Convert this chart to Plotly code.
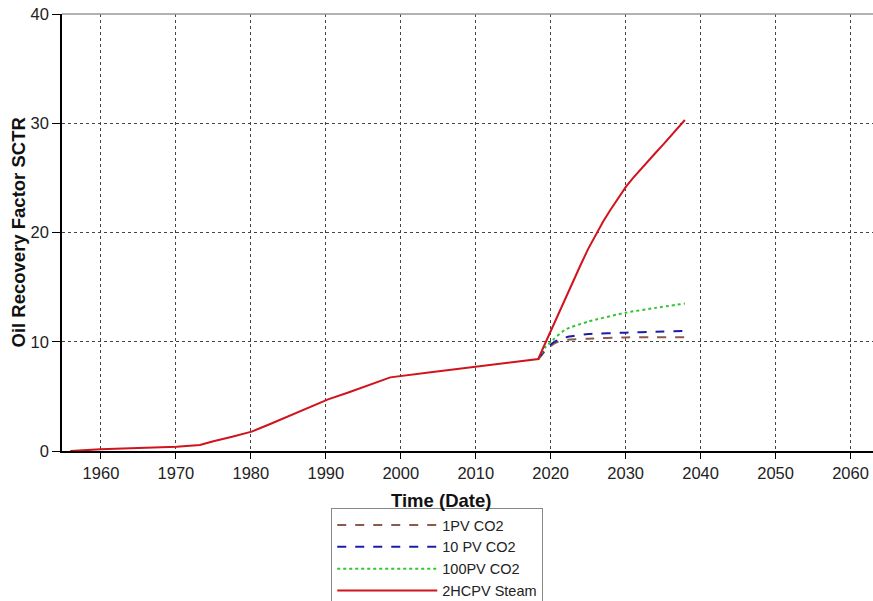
import plotly.graph_objects as go

# History + steam case (red)
steam_year = [1955.9, 1959.9, 1965.0, 1970.1, 1973.2, 1975.0, 1977.5, 1980.1, 1982.5, 1985.0, 1987.9,
              1990.3, 1993.0, 1998.6, 2004.0, 2009.9, 2018.35, 2019.0, 2020.0, 2021.0, 2022.0, 2023.0,
              2024.0, 2025.0, 2026.1, 2027.0, 2028.0, 2029.0, 2030.05, 2031.0, 2032.0, 2033.0,
              2034.0, 2035.0, 2036.0, 2037.9]
steam_val = [0.0, 0.15, 0.27, 0.4, 0.55, 0.9, 1.3, 1.77, 2.45, 3.2, 4.06,
             4.73, 5.35, 6.74, 7.2, 7.72, 8.42, 9.45, 11.0, 12.55, 14.1, 15.6,
             17.05, 18.5, 19.9, 21.0, 22.1, 23.15, 24.2, 25.0, 25.8, 26.55,
             27.3, 28.05, 28.8, 30.3]

co2_year = [2018.35, 2019.3, 2020.5, 2022.0, 2025.0, 2030.0, 2034.0, 2037.9]
co2_1pv = [8.42, 9.2, 9.86, 10.16, 10.28, 10.4, 10.42, 10.42]
co2_10pv = [8.42, 9.3, 10.0, 10.4, 10.7, 10.83, 10.92, 11.0]
co2_100pv = [8.42, 9.5, 10.3, 11.13, 11.84, 12.66, 13.1, 13.5]

x_ticks = [1960, 1970, 1980, 1990, 2000, 2010, 2020, 2030, 2040, 2050, 2060]
y_ticks = [0, 10, 20, 30, 40]

fig = go.Figure()
fig.add_trace(go.Scatter(x=co2_year, y=co2_1pv, mode="lines", name="1PV CO2",
                         line=dict(color="#8c5a4c", width=2, dash="dash", shape="spline", smoothing=0.6)))
fig.add_trace(go.Scatter(x=co2_year, y=co2_10pv, mode="lines", name="10 PV CO2",
                         line=dict(color="#1c1ca8", width=2, dash="dash", shape="spline", smoothing=0.6)))
fig.add_trace(go.Scatter(x=co2_year, y=co2_100pv, mode="lines", name="100PV CO2",
                         line=dict(color="#33c433", width=2, dash="dot", shape="spline", smoothing=0.6)))
fig.add_trace(go.Scatter(x=steam_year, y=steam_val, mode="lines", name="2HCPV Steam",
                         line=dict(color="#d0131d", width=2)))

axis_font = dict(family="Arial, Liberation Sans, sans-serif", size=16.5, color="#222")
fig.update_layout(
    width=873, height=601,
    margin=dict(l=62, r=0, t=14, b=150, autoexpand=False),
    paper_bgcolor="white", plot_bgcolor="white",
    font=dict(family="Arial, Liberation Sans, sans-serif", size=16, color="#222"),
    xaxis=dict(range=[1954.8, 2063.0], tickvals=x_ticks, ticks="outside", ticklen=6,
               tickcolor="black", tickfont=axis_font, showline=True, linecolor="black",
               linewidth=1.5, showgrid=True, gridcolor="#444", griddash="dot", gridwidth=1,
               zeroline=False, mirror=False, automargin=False),
    yaxis=dict(range=[0, 40], tickvals=y_ticks, ticks="outside", ticklen=8,
               tickcolor="black", tickfont=axis_font, showline=True, linecolor="black",
               linewidth=1.5, showgrid=True, gridcolor="#444", griddash="dot", gridwidth=1,
               zeroline=False, automargin=False),
    legend=dict(x=0.332, xanchor="left", y=(451 - 508) / 437, yanchor="top",
                bordercolor="#888", borderwidth=1, bgcolor="white",
                font=dict(size=14.5, color="#222"), tracegroupgap=0, itemwidth=100),
    showlegend=True,
)
fig.add_annotation(text="<b>Time (Date)</b>", xref="paper", yref="paper",
                   x=(441 - 62) / 811, y=(451 - 500) / 437, xanchor="center", yanchor="middle",
                   showarrow=False, font=dict(size=18.5, color="#111"))
fig.add_annotation(text="<b>Oil Recovery Factor SCTR</b>", xref="paper", yref="paper",
                   x=(18 - 62) / 811, y=0.5, xanchor="center", yanchor="middle", textangle=-90,
                   showarrow=False, font=dict(size=18.5, color="#111"))
# top border line
fig.add_shape(type="line", xref="paper", yref="paper", x0=0, x1=1, y0=1, y1=1,
              line=dict(color="#999", width=1.5))

fig.write_html("out.html")
